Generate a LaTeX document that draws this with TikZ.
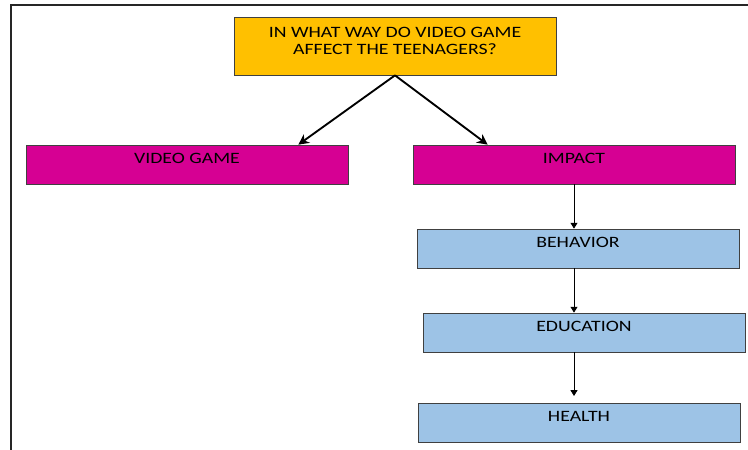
\documentclass[tikz,border=0pt]{standalone}
\usepackage{fontspec}
\setmainfont[FakeStretch=1.25]{Carlito}
\usetikzlibrary{arrows.meta, positioning}
\definecolor{qorange}{RGB}{255,192,0}
\definecolor{topicpink}{RGB}{214,0,147}
\definecolor{itemblue}{RGB}{157,195,230}

\begin{document}
\begin{tikzpicture}[x=0.03cm, y=-0.03cm,
    box/.style={draw=black!75, line width=0.6pt, minimum width=9.66cm, minimum height=1.17cm,
        inner sep=0pt, font=\fontsize{13.5}{14.5}\selectfont},
    oneline/.style={text height=0.3cm, text depth=0.36cm},
    bigarrow/.style={-{Stealth[length=9pt, width=9pt]}, line width=1.6pt},
    smallarrow/.style={-{Triangle[length=5pt, width=6pt]}, line width=0.7pt}]
    \useasboundingbox (0,0) rectangle (748,450);
    % Page frame
    \draw[line width=1.5pt, black!85] (11,450) -- (11,5) -- (748,5);

    % Question at the top
    \node[box, fill=qorange, minimum height=1.74cm, align=center] (question) at (395,46)
        {IN WHAT WAY DO VIDEO GAME\\AFFECT THE TEENAGERS?\\[-0.22cm]};

    % Two topics
    \node[box, oneline, fill=topicpink] (videogame) at (187,164.5) {VIDEO GAME};
    \node[box, oneline, fill=topicpink] (impact) at (574,164.5) {IMPACT};

    % Effects
    \node[box, oneline, fill=itemblue] (behavior) at (578,248.5) {BEHAVIOR};
    \node[box, oneline, fill=itemblue] (education) at (584,332.5) {EDUCATION};
    \node[box, oneline, fill=itemblue] (health) at (579,422.5) {HEALTH};

    \draw[bigarrow] (question.south) -- ([xshift=-1.5cm]videogame.north east);
    \draw[bigarrow] (question.south) -- ([xshift=2.25cm]impact.north west);

    \draw[smallarrow] (impact.south) -- (impact.south |- behavior.north);
    \draw[smallarrow] (impact.south |- behavior.south) -- (impact.south |- education.north);
    \draw[smallarrow, shorten >=0.2cm] (impact.south |- education.south) -- (impact.south |- health.north);
\end{tikzpicture}
\end{document}
